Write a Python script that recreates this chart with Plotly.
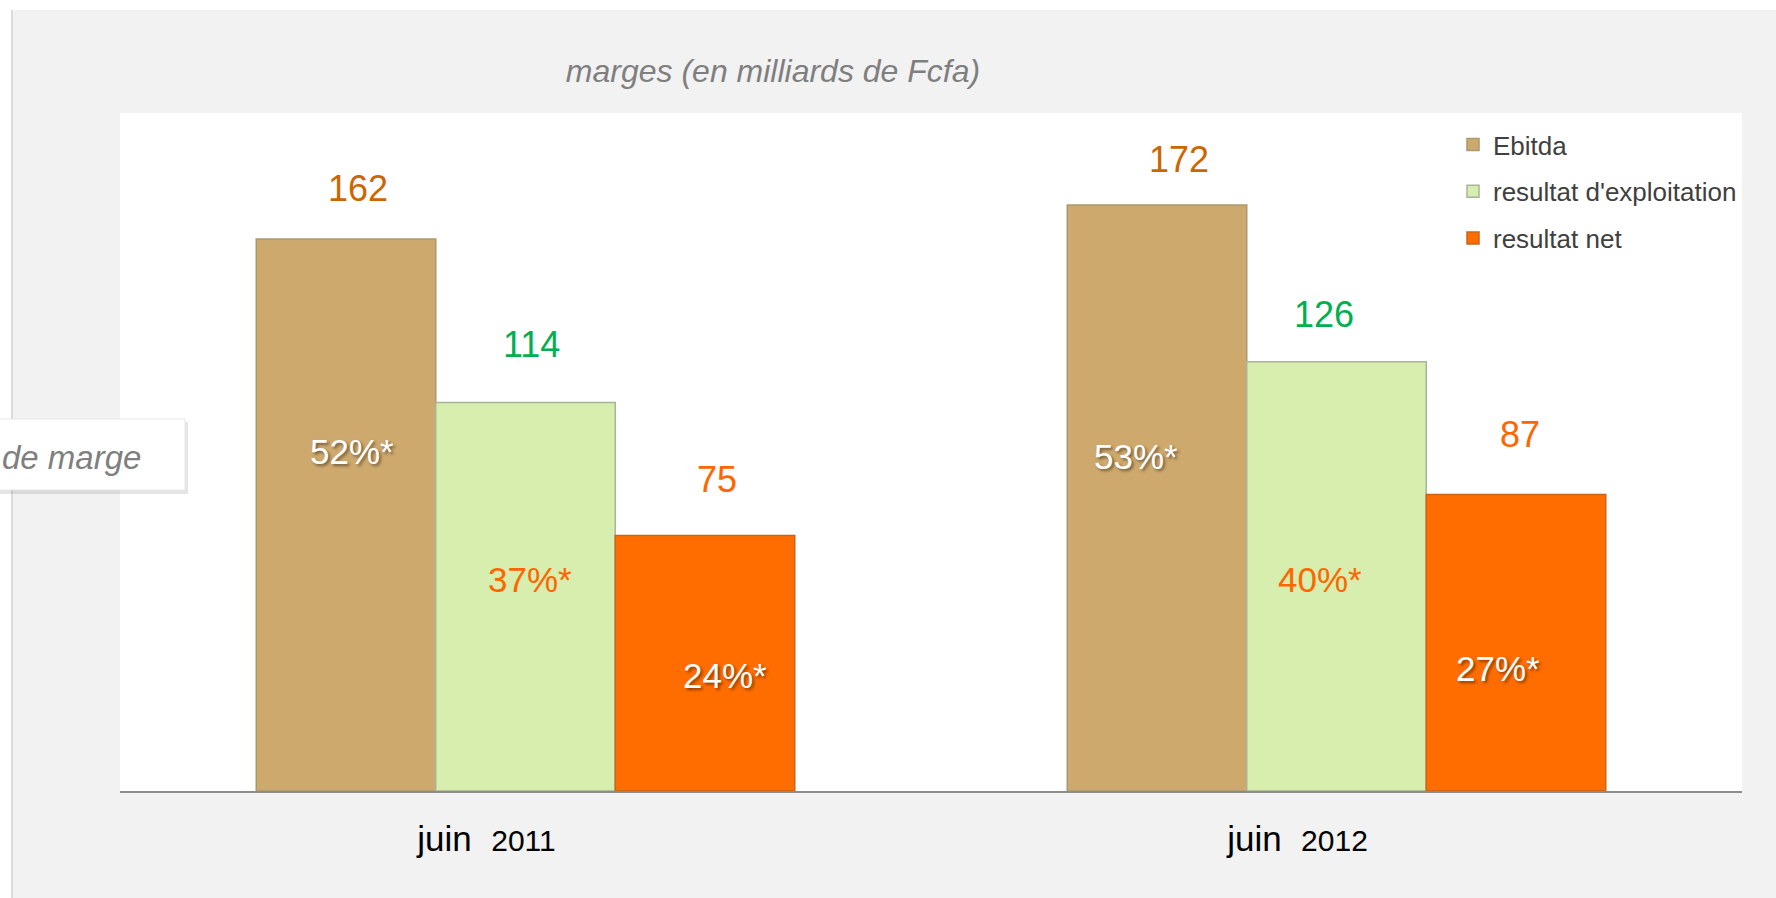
import plotly.graph_objects as go

# ---- data ----
periods = ["juin 2011", "juin 2012"]
tick_years = ["2011", "2012"]
series_names = ["Ebitda", "resultat d'exploitation", "resultat net"]
ebitda = [162, 172]
resultat_exploitation = [114, 126]
resultat_net = [75, 87]
marge_ebitda = ["52%*", "53%*"]
marge_exploitation = ["37%*", "40%*"]
marge_net = ["24%*", "27%*"]

# ---- style ----
FONT = "Liberation Sans, Arial, sans-serif"
colors = ["#CEA96D", "#D7EEAE", "#FF6D00"]
outline_colors = ["#A89A70", "#A9B59A", "#C8651A"]
value_colors = ["#CC6600", "#00B050", "#FF6600"]
pct_colors = ["#FFFFFF", "#FF6600", "#FFFFFF"]
BARGAP = 0.336
W, H = 1776, 898
ML, MR, MT, MB = 120, 34, 113, 107
PW, PH = W - ML - MR, H - MT - MB

def px_x(p):
    return (p - ML) / PW

def px_y(p):
    return (H - MB - p) / PH

values = [ebitda, resultat_exploitation, resultat_net]
pcts = [marge_ebitda, marge_exploitation, marge_net]
xs = list(range(len(periods)))
bar_w = (1 - BARGAP) / len(series_names)
offsets = [-bar_w, 0, bar_w]

# per-label pixel nudges (style only)
val_xshift = [[12, 22], [6, -13], [12, 4]]
val_yshift = [[51, 45], [58, 47], [56, 60]]
pct_xshift = [[6, -21], [4, -17], [20, -18]]
pct_yshift = [[340, 335], [212, 212], [116, 123]]

fig = go.Figure()
for i, name in enumerate(series_names):
    fig.add_trace(go.Bar(
        x=xs, y=values[i], name=name, legendgroup=name,
        marker=dict(color=colors[i], line=dict(color=outline_colors[i], width=1.5)),
        hoverinfo="skip",
    ))

ann = []
for i in range(len(series_names)):
    for j in xs:
        ann.append(dict(
            x=j + offsets[i], y=values[i][j], xref="x", yref="y",
            text=str(values[i][j]), showarrow=False,
            xshift=val_xshift[i][j], yshift=val_yshift[i][j],
            yanchor="middle",
            font=dict(family=FONT, size=36, color=value_colors[i]),
        ))
        ann.append(dict(
            x=j + offsets[i], y=0, xref="x", yref="y",
            text=pcts[i][j], showarrow=False,
            xshift=pct_xshift[i][j], yshift=pct_yshift[i][j],
            yanchor="middle",
            font=dict(family=FONT, size=35, color=pct_colors[i],
                      shadow="2px 2px 3px rgba(0,0,0,0.45)" if pct_colors[i] == "#FFFFFF" else "none"),
        ))

# partial side label box
ann.append(dict(
    x=px_x(143), y=px_y(457), xref="paper", yref="paper",
    text="<i>de marge</i>", showarrow=False, xanchor="right", yanchor="middle",
    font=dict(family=FONT, size=33, color="#7F7F7F"),
))

shapes = [
    # grey panel
    dict(type="rect", xref="paper", yref="paper", layer="below",
         x0=px_x(12), x1=px_x(W + 5), y0=px_y(H + 5), y1=px_y(10),
         fillcolor="#F2F2F2", line=dict(width=0)),
    dict(type="line", xref="paper", yref="paper", layer="below",
         x0=px_x(12), x1=px_x(12), y0=px_y(H + 5), y1=px_y(10),
         line=dict(color="#DCDCDC", width=2)),
    # white plot area
    dict(type="rect", xref="paper", yref="paper", layer="below",
         x0=0, x1=1, y0=0, y1=1, fillcolor="#FFFFFF", line=dict(width=0)),
    # side box shadow + box
    dict(type="rect", xref="paper", yref="paper",
         x0=px_x(-10), x1=px_x(188), y0=px_y(494), y1=px_y(422),
         fillcolor="rgba(0,0,0,0.10)", line=dict(width=0)),
    dict(type="rect", xref="paper", yref="paper",
         x0=px_x(-10), x1=px_x(185), y0=px_y(490), y1=px_y(419),
         fillcolor="#FFFFFF", line=dict(color="#E6E6E6", width=1)),
]

fig.update_layout(
    width=W, height=H,
    margin=dict(l=ML, r=MR, t=MT, b=MB, pad=0),
    paper_bgcolor="#FFFFFF", plot_bgcolor="rgba(0,0,0,0)",
    barmode="group", bargap=BARGAP, bargroupgap=0,
    font=dict(family=FONT, color="#404040"),
    title=dict(text="<i>marges (en milliards de Fcfa)</i>",
               x=773 / W, xanchor="center", y=1 - 71 / H, yanchor="middle",
               font=dict(family=FONT, size=32, color="#7F7F7F")),
    xaxis=dict(
        range=[-0.5, len(periods) - 0.5],
        tickvals=xs,
        ticktext=[f"{p.split(' ')[0]}&nbsp;&nbsp;<span style='font-size:30px'>{y}</span>"
                  for p, y in zip(periods, tick_years)],
        tickfont=dict(family=FONT, size=35, color="#000000"),
        ticks="", showgrid=False, zeroline=False,
        showline=True, linecolor="#8C8C8C", linewidth=2,
        ticklabelshift=-39, ticklabelstandoff=16,
    ),
    yaxis=dict(range=[0, 199], visible=False, showgrid=False, zeroline=False),
    legend=dict(x=px_x(1453), y=px_y(121), xanchor="left", yanchor="top",
                bgcolor="rgba(0,0,0,0)", font=dict(family=FONT, size=26, color="#404040"),
                tracegroupgap=10, itemclick=False),
    annotations=ann,
    shapes=shapes,
    showlegend=True,
)

fig.write_html("out.html", config={"displayModeBar": False},
               post_script="document.body.style.margin='0px';document.body.style.overflow='hidden';")
